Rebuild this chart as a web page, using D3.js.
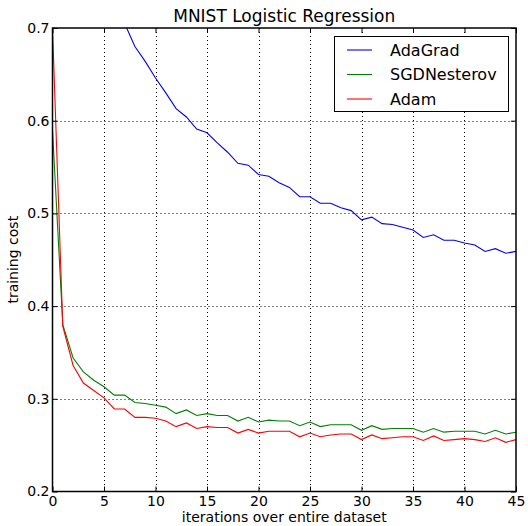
<!DOCTYPE html>
<html>
<head>
<meta charset="utf-8">
<script src="https://cdn.jsdelivr.net/npm/d3@7"></script>
<style>
  body { margin: 0; background: #fff; }
  text { font-family: "DejaVu Sans", sans-serif; fill: #000; }
</style>
</head>
<body>
<script>
var iterations = d3.range(0, 46);
var adagrad = [1.10, 0.92, 0.85, 0.80, 0.77, 0.745, 0.725, 0.705, 0.680, 0.664, 0.646, 0.630, 0.613, 0.604, 0.591,
               0.587, 0.576, 0.566, 0.554, 0.552, 0.542, 0.540, 0.533, 0.528, 0.518, 0.518, 0.511, 0.511, 0.506, 0.503,
               0.493, 0.496, 0.489, 0.488, 0.485, 0.482, 0.474, 0.477, 0.471, 0.471, 0.468, 0.466, 0.459, 0.462, 0.457, 0.459];
var sgdNesterov = [0.590, 0.380, 0.344, 0.329, 0.320, 0.313, 0.304, 0.304, 0.296, 0.295, 0.293, 0.291, 0.284, 0.288, 0.282,
                   0.284, 0.282, 0.282, 0.276, 0.280, 0.275, 0.277, 0.276, 0.276, 0.271, 0.275, 0.270, 0.272, 0.272, 0.272,
                   0.266, 0.271, 0.267, 0.268, 0.268, 0.268, 0.264, 0.268, 0.264, 0.265, 0.265, 0.265, 0.262, 0.266, 0.262, 0.264];
var adam = [0.700, 0.378, 0.336, 0.317, 0.309, 0.301, 0.289, 0.289, 0.280, 0.280, 0.279, 0.276, 0.270, 0.274, 0.268,
            0.270, 0.269, 0.269, 0.263, 0.267, 0.263, 0.265, 0.265, 0.265, 0.259, 0.263, 0.259, 0.261, 0.262, 0.262,
            0.256, 0.261, 0.257, 0.258, 0.259, 0.259, 0.255, 0.260, 0.255, 0.256, 0.257, 0.256, 0.254, 0.258, 0.253, 0.256];
var seriesNames = ["AdaGrad", "SGDNesterov", "Adam"];
var seriesColors = ["#0000ff", "#008000", "#ff0000"];
var xTicks = [0, 5, 10, 15, 20, 25, 30, 35, 40, 45];
var yTicks = [0.2, 0.3, 0.4, 0.5, 0.6, 0.7];

var width = 528, height = 526;
var margin = {left: 52.5, right: 12, top: 28, bottom: 34.5};

var svg = d3.select("body").append("svg").attr("width", width).attr("height", height);

var x = d3.scaleLinear().domain([0, 45]).range([margin.left, width - margin.right]);
var y = d3.scaleLinear().domain([0.2, 0.7]).range([height - margin.bottom, margin.top]);

// grid
var grid = svg.append("g");
grid.selectAll(".gx").data(xTicks.slice(1, -1)).enter().append("line")
    .attr("x1", function(d){ return Math.round(x(d)) + 0.5; })
    .attr("x2", function(d){ return Math.round(x(d)) + 0.5; })
    .attr("y1", y(0.7)).attr("y2", y(0.2))
    .attr("stroke", "#000").attr("stroke-width", 1).attr("stroke-dasharray", "1,3");
grid.selectAll(".gy").data(yTicks.slice(1, -1)).enter().append("line")
    .attr("y1", function(d){ return Math.round(y(d)) + 0.5; })
    .attr("y2", function(d){ return Math.round(y(d)) + 0.5; })
    .attr("x1", x(0)).attr("x2", x(45))
    .attr("stroke", "#000").attr("stroke-width", 1).attr("stroke-dasharray", "1,3");

// lines
svg.append("clipPath").attr("id", "clip").append("rect")
    .attr("x", x(0)).attr("y", y(0.7)).attr("width", x(45) - x(0)).attr("height", y(0.2) - y(0.7));

var line = d3.line()
    .x(function(d, i){ return x(iterations[i]); })
    .y(function(d){ return y(d); });

var allSeries = [adagrad, sgdNesterov, adam];
var lines = svg.append("g").attr("clip-path", "url(#clip)");
allSeries.forEach(function(s, i){
    lines.append("path")
        .attr("fill", "none")
        .attr("stroke", seriesColors[i])
        .attr("stroke-width", 1.1)
        .attr("d", line(s));
});

// axes with inward ticks on all sides
var axisStyle = function(g){
    g.select(".domain").remove();
    g.selectAll("text").style("font-family", "DejaVu Sans").style("font-size", "14px");
};
svg.append("g").attr("transform", "translate(0," + y(0.2) + ")")
    .call(d3.axisBottom(x).tickValues(xTicks).tickSize(-5).tickPadding(5).tickFormat(d3.format("d")))
    .call(axisStyle);
svg.append("g").attr("transform", "translate(0," + y(0.7) + ")")
    .call(d3.axisTop(x).tickValues(xTicks).tickSize(-5).tickFormat(""))
    .call(axisStyle);
svg.append("g").attr("transform", "translate(" + x(0) + ",0)")
    .call(d3.axisLeft(y).tickValues(yTicks).tickSize(-5).tickPadding(3).tickFormat(d3.format(".1f")))
    .call(axisStyle);
svg.append("g").attr("transform", "translate(" + x(45) + ",0)")
    .call(d3.axisRight(y).tickValues(yTicks).tickSize(-5).tickFormat(""))
    .call(axisStyle);

svg.append("rect")
    .attr("x", x(0)).attr("y", y(0.7))
    .attr("width", x(45) - x(0)).attr("height", y(0.2) - y(0.7))
    .attr("fill", "none").attr("stroke", "#000").attr("stroke-width", 1.5);

// title and labels
svg.append("text")
    .attr("x", (x(0) + x(45)) / 2).attr("y", 22)
    .attr("text-anchor", "middle").style("font-size", "17px")
    .text("MNIST Logistic Regression");
svg.append("text")
    .attr("x", (x(0) + x(45)) / 2).attr("y", 522)
    .attr("text-anchor", "middle").style("font-size", "14px")
    .text("iterations over entire dataset");
svg.append("text")
    .attr("transform", "rotate(-90)")
    .attr("x", -(y(0.2) + y(0.7)) / 2).attr("y", 18)
    .attr("text-anchor", "middle").style("font-size", "14px")
    .text("training cost");

// legend
var legend = svg.append("g");
legend.append("rect")
    .attr("x", 334.5).attr("y", 36.5).attr("width", 174).attr("height", 75)
    .attr("fill", "#fff").attr("stroke", "#000").attr("stroke-width", 1);
seriesNames.forEach(function(name, i){
    var ly = 50 + i * 24.5;
    legend.append("line")
        .attr("x1", 347).attr("x2", 372).attr("y1", ly).attr("y2", ly)
        .attr("stroke", seriesColors[i]).attr("stroke-width", 1.1);
    legend.append("text")
        .attr("x", 390).attr("y", ly).attr("dy", "0.35em")
        .style("font-size", "16px")
        .text(name);
});
</script>
</body>
</html>
